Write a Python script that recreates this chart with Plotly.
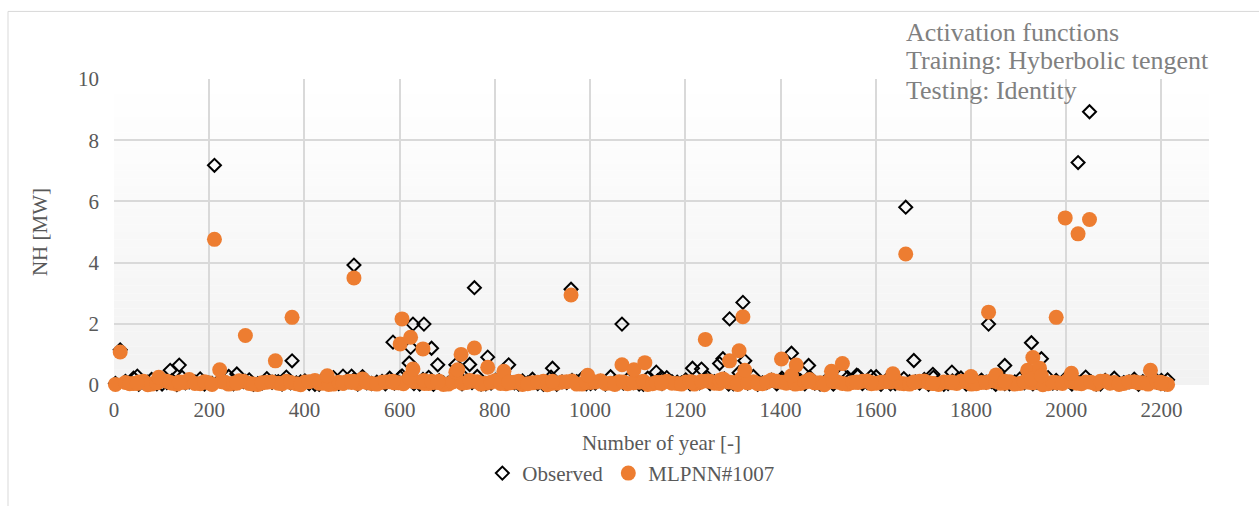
import plotly.graph_objects as go

# Low-output years forming the dense band near zero
base_years = [
    3, 24, 41, 62, 79, 101, 122, 143, 158, 181,
    199, 226, 241, 263, 284, 302, 321, 345, 362, 383,
    401, 422, 439, 461, 484, 503, 522, 541, 563, 579,
    598, 617, 642, 661, 683, 702, 719, 741, 763, 781,
    802, 823, 841, 858, 879, 902, 918, 941, 962, 983,
    1001, 1022, 1043, 1061, 1079, 1103, 1121, 1142, 1161, 1183,
    1201, 1219, 1246, 1261, 1282, 1301, 1318, 1343, 1362, 1381,
    1403, 1421, 1442, 1461, 1483, 1502, 1519, 1541, 1563, 1582,
    1601, 1622, 1641, 1659, 1683, 1702, 1721, 1743, 1761, 1779,
    1801, 1822, 1843, 1862, 1881, 1903, 1921, 1939, 1962, 1981,
    2003, 2022, 2041, 2063, 2082, 2101, 2121, 2143, 2161, 2183,
    2199, 2213,
]
base_observed = [
    0.05, 0.12, 0.22, 0.08, 0.18, 0.03, 0.15, 0.25, 0.10, 0.20,
    0.06, 0.14, 0.28, 0.09, 0.17, 0.04, 0.21, 0.11, 0.26, 0.07,
    0.13, 0.02, 0.19, 0.24, 0.08, 0.16, 0.27, 0.05, 0.12, 0.22,
    0.09, 0.18, 0.03, 0.25, 0.14, 0.06, 0.20, 0.11, 0.28, 0.04,
    0.16, 0.23, 0.07, 0.13, 0.19, 0.02, 0.26, 0.10, 0.15, 0.21,
    0.05, 0.12, 0.27, 0.08, 0.18, 0.03, 0.22, 0.14, 0.24, 0.09,
    0.17, 0.06, 0.25, 0.11, 0.20, 0.04, 0.13, 0.28, 0.07, 0.16,
    0.22, 0.09, 0.14, 0.26, 0.03, 0.19, 0.12, 0.24, 0.30, 0.08,
    0.27, 0.15, 0.05, 0.21, 0.10, 0.18, 0.25, 0.02, 0.13, 0.23,
    0.07, 0.16, 0.11, 0.28, 0.04, 0.20, 0.14, 0.09, 0.24, 0.06,
    0.18, 0.12, 0.26, 0.03, 0.15, 0.22, 0.08, 0.19, 0.11, 0.25,
    0.05, 0.17,
]
base_predicted = [
    0.02, 0.08, 0.05, 0.12, 0.03, 0.15, 0.06, 0.09, 0.18, 0.04,
    0.07, 0.11, 0.03, 0.14, 0.05, 0.02, 0.09, 0.06, 0.12, 0.04,
    0.10, 0.15, 0.06, 0.03, 0.08, 0.12, 0.20, 0.05, 0.09, 0.11,
    0.07, 0.14, 0.10, 0.05, 0.12, 0.03, 0.18, 0.08, 0.11, 0.06,
    0.15, 0.04, 0.09, 0.02, 0.07, 0.12, 0.05, 0.10, 0.13, 0.03,
    0.08, 0.14, 0.06, 0.11, 0.04, 0.09, 0.02, 0.07, 0.12, 0.05,
    0.10, 0.03, 0.13, 0.06, 0.15, 0.08, 0.22, 0.11, 0.04, 0.16,
    0.09, 0.12, 0.05, 0.18, 0.07, 0.14, 0.10, 0.03, 0.08, 0.13,
    0.06, 0.11, 0.16, 0.04, 0.09, 0.13, 0.05, 0.10, 0.07, 0.12,
    0.03, 0.08, 0.14, 0.06, 0.11, 0.05, 0.09, 0.12, 0.04, 0.07,
    0.15, 0.06, 0.10, 0.03, 0.13, 0.08, 0.05, 0.11, 0.07, 0.14,
    0.09, 0.02,
]

# Further low-output years in between
fill_years = [
    33, 52, 71, 90, 111, 132, 150, 170, 190, 206,
    233, 251, 272, 293, 311, 332, 353, 371, 392, 410,
    431, 451, 472, 492, 512, 531, 552, 570, 589, 608,
    630, 652, 671, 692, 711, 731, 752, 771, 792, 812,
    832, 850, 869, 890, 910, 930, 951, 972, 992, 1011,
    1032, 1052, 1070, 1091, 1112, 1131, 1151, 1172, 1192, 1210,
    1230, 1252, 1271, 1291, 1310, 1331, 1352, 1371, 1392, 1412,
    1431, 1451, 1472, 1492, 1511, 1530, 1552, 1572, 1591, 1611,
    1631, 1650, 1671, 1692, 1711, 1732, 1752, 1770, 1790, 1811,
    1832, 1852, 1871, 1892, 1912, 1930, 1951, 1972, 1992, 2012,
    2032, 2052, 2072, 2092, 2111, 2132, 2152, 2172, 2191, 2207,
]
fill_observed = [
    0.06, 0.02, 0.09, 0.04, 0.08, 0.01, 0.07, 0.10, 0.03, 0.05,
    0.08, 0.04, 0.11, 0.02, 0.06, 0.09, 0.03, 0.07, 0.10, 0.05,
    0.02, 0.08, 0.05, 0.11, 0.03, 0.07, 0.09, 0.04, 0.06, 0.10,
    0.05, 0.09, 0.02, 0.07, 0.11, 0.04, 0.08, 0.03, 0.06, 0.10,
    0.09, 0.03, 0.07, 0.05, 0.10, 0.02, 0.08, 0.11, 0.04, 0.06,
    0.03, 0.10, 0.06, 0.08, 0.02, 0.09, 0.05, 0.11, 0.07, 0.04,
    0.07, 0.05, 0.09, 0.03, 0.10, 0.06, 0.02, 0.08, 0.04, 0.11,
    0.10, 0.04, 0.06, 0.09, 0.03, 0.07, 0.11, 0.05, 0.08, 0.02,
    0.04, 0.08, 0.11, 0.06, 0.02, 0.09, 0.05, 0.10, 0.03, 0.07,
    0.09, 0.02, 0.05, 0.10, 0.07, 0.04, 0.11, 0.06, 0.08, 0.03,
    0.06, 0.11, 0.03, 0.08, 0.05, 0.10, 0.02, 0.07, 0.09, 0.04,
]
fill_predicted = [
    0.04, 0.10, 0.01, 0.07, 0.12, 0.03, 0.08, 0.05, 0.11, 0.02,
    0.09, 0.06, 0.12, 0.03, 0.07, 0.10, 0.04, 0.08, 0.01, 0.11,
    0.06, 0.02, 0.09, 0.12, 0.05, 0.08, 0.03, 0.10, 0.07, 0.04,
    0.11, 0.05, 0.08, 0.02, 0.10, 0.06, 0.12, 0.03, 0.09, 0.05,
    0.07, 0.12, 0.04, 0.09, 0.01, 0.06, 0.11, 0.03, 0.08, 0.10,
    0.05, 0.02, 0.10, 0.07, 0.12, 0.04, 0.09, 0.06, 0.03, 0.11,
    0.08, 0.12, 0.05, 0.10, 0.02, 0.07, 0.04, 0.09, 0.12, 0.06,
    0.03, 0.10, 0.07, 0.01, 0.11, 0.05, 0.08, 0.12, 0.04, 0.09,
    0.10, 0.06, 0.03, 0.12, 0.07, 0.02, 0.09, 0.05, 0.11, 0.04,
    0.08, 0.12, 0.06, 0.03, 0.10, 0.07, 0.01, 0.09, 0.05, 0.11,
    0.04, 0.09, 0.12, 0.06, 0.02, 0.10, 0.07, 0.03, 0.08, 0.05,
]

# Years with notable output
peak_years = [
    13, 49, 94, 118, 137, 211, 222, 258, 276, 339,
    374, 448, 481, 499, 504, 586, 601, 605, 620, 623,
    628, 649, 651, 667, 680, 718, 722, 729, 747, 757,
    785, 819, 829, 921, 960, 995, 1067, 1092, 1115, 1139,
    1150, 1215, 1234, 1242, 1272, 1279, 1293, 1313, 1321, 1325,
    1402, 1423, 1433, 1459, 1507, 1530, 1560, 1590, 1636, 1663,
    1680, 1720, 1760, 1800, 1837, 1853, 1871, 1919, 1927, 1930,
    1944, 1948, 1979, 1998, 2011, 2025, 2049, 2177, 2200,
]
peak_observed = [
    1.15, 0.29, 0.10, 0.48, 0.65, 7.18, 0.15, 0.36, 0.12, 0.10,
    0.79, 0.10, 0.29, 0.29, 3.92, 1.40, 0.25, 0.30, 0.72, 1.23,
    1.99, 0.18, 1.99, 1.20, 0.66, 0.66, 0.30, 0.35, 0.67, 3.18,
    0.91, 0.20, 0.66, 0.55, 3.13, 0.10, 1.99, 0.10, 0.12, 0.42,
    0.25, 0.55, 0.52, 0.20, 0.70, 0.86, 2.16, 0.40, 2.70, 0.79,
    0.15, 1.04, 0.25, 0.64, 0.20, 0.35, 0.32, 0.27, 0.18, 5.81,
    0.80, 0.35, 0.42, 0.20, 1.99, 0.15, 0.64, 0.25, 1.38, 0.30,
    0.25, 0.86, 0.15, 0.20, 0.10, 7.27, 8.93, 0.15, 0.15,
]
peak_predicted = [
    1.08, 0.05, 0.25, 0.08, 0.10, 4.76, 0.50, 0.06, 1.62, 0.79,
    2.21, 0.30, 0.05, 0.08, 3.50, 0.12, 1.34, 2.16, 0.25, 1.56,
    0.52, 1.18, 0.15, 0.12, 0.08, 0.42, 0.50, 1.00, 0.15, 1.21,
    0.58, 0.45, 0.10, 0.12, 2.94, 0.32, 0.66, 0.50, 0.73, 0.08,
    0.05, 0.10, 0.12, 1.49, 0.15, 0.20, 0.79, 1.12, 2.23, 0.48,
    0.85, 0.30, 0.65, 0.12, 0.45, 0.70, 0.10, 0.08, 0.37, 4.28,
    0.10, 0.05, 0.10, 0.28, 2.38, 0.33, 0.12, 0.48, 0.20, 0.90,
    0.55, 0.30, 2.21, 5.46, 0.38, 4.94, 5.41, 0.48, 0.05,
]

years = base_years + fill_years + peak_years
observed = base_observed + fill_observed + peak_observed
predicted = base_predicted + fill_predicted + peak_predicted

x_ticks = [0, 200, 400, 600, 800, 1000, 1200, 1400, 1600, 1800, 2000, 2200]
y_ticks = [0, 2, 4, 6, 8, 10]

FONT = "Liberation Serif, Times New Roman, serif"
TEXT = "#595959"
GRID = "#d9d9d9"
ORANGE = "#ed7d31"

fig = go.Figure()

fig.add_trace(go.Scatter(
    x=years, y=observed, mode="markers", name="Observed",
    marker=dict(symbol="diamond-open", size=10, color="black",
                line=dict(color="black", width=2)),
    cliponaxis=False,
))
fig.add_trace(go.Scatter(
    x=years, y=predicted, mode="markers", name="MLPNN#1007",
    marker=dict(symbol="circle", size=15, color=ORANGE,
                line=dict(width=0)),
    cliponaxis=False,
))

# Soft vertical gradient in the plotting area (light grey at the bottom)
n_bands = 40
shapes = []
for i in range(n_bands):
    t = i / (n_bands - 1)
    g = int(round(242 + (255 - 242) * t))
    shapes.append(dict(
        type="rect", xref="x", yref="y",
        x0=0, x1=2300, y0=10 * i / n_bands, y1=10 * (i + 1) / n_bands,
        fillcolor=f"rgb({g},{g},{g})", line=dict(width=0), layer="below",
    ))
# Chart frame
shapes.append(dict(
    type="rect", xref="paper", yref="paper",
    x0=-0.0968, x1=1.2, y0=-1.0, y1=1.2208,
    line=dict(color=GRID, width=1), fillcolor="rgba(0,0,0,0)", layer="below",
))

note_lines = ["Activation functions", "Training: Hyberbolic tengent",
              "Testing: Identity"]
note_y = [1.1526, 1.0617, 0.961]
annotations = [
    dict(xref="paper", yref="paper", x=0.7215, y=yy, xanchor="left",
         yanchor="middle", align="left", showarrow=False, text=txt,
         font=dict(family=FONT, size=26, color="#808080"))
    for txt, yy in zip(note_lines, note_y)
]

fig.update_layout(
    width=1259, height=506,
    margin=dict(l=114, r=50, t=79, b=119),
    paper_bgcolor="white",
    plot_bgcolor="rgba(0,0,0,0)",
    font=dict(family=FONT, size=21, color=TEXT),
    shapes=shapes,
    annotations=annotations,
    showlegend=True,
    legend=dict(orientation="h", x=0.472, y=-0.289, xanchor="center",
                yanchor="middle", font=dict(size=21, color=TEXT),
                itemwidth=30, tracegroupgap=0, bgcolor="rgba(0,0,0,0)"),
    xaxis=dict(
        range=[0, 2300], tickvals=x_ticks, showgrid=True, gridcolor=GRID,
        gridwidth=1.5, zeroline=False, showline=False, ticks="",
        ticklabelstandoff=10,
        tickfont=dict(size=21, color=TEXT),
        title=dict(text="Number of year [-]", font=dict(size=21, color=TEXT),
                   standoff=14),
    ),
    yaxis=dict(
        range=[0, 10], tickvals=y_ticks, showgrid=True, gridcolor=GRID,
        gridwidth=1.5, zeroline=False, showline=False, ticks="",
        ticklabelstandoff=14,
        tickfont=dict(size=21, color=TEXT),
        title=dict(text="NH [MW]", font=dict(size=21, color=TEXT),
                   standoff=24),
    ),
)

fig.write_html("out.html")
